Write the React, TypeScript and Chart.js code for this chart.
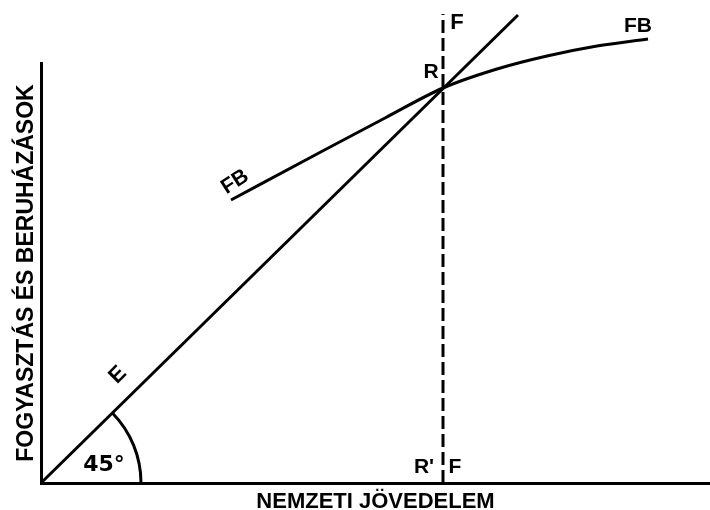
import React, { useEffect, useRef } from "react";
import { Chart, registerables } from "chart.js";

Chart.register(...registerables);

// 45° line (E)
const ePointsX = [0, 477];
const ePointsY = [0, 468];
// FB curve
const fbX = [190, 276, 344, 402, 456, 506, 556, 607];
const fbY = [283, 329, 365, 395, 414, 427, 437, 444];
// vertical dashed F line
const fLineX = [402, 402];
const fLineY = [0, 469];
// angle arc radius (x units)
const angleRadius = 100;
// annotation labels
const labelTexts = ["F", "FB", "R", "FB", "E", "45°", "R'", "F"];
const labelX = [416, 597, 390, 194, 77, 63, 383, 414];
const labelY = [460, 457, 411, 301, 108, 18, 16, 16];
const labelRot = [0, 0, 0, -33, -45, 0, 0, 0];
const labelSize = [22, 21, 21, 21, 22, 22, 21, 21];
// axis titles
const xTitle = "NEMZETI JÖVEDELEM";
const yTitle = "FOGYASZTÁS ÉS BERUHÁZÁSOK";
const xMax = 669;
const yMax = 420;

const FONT = "'Liberation Sans', Arial, sans-serif";
const WIDE_FONT = "'DejaVu Sans', sans-serif";
const labelFont = [FONT, FONT, FONT, FONT, FONT, WIDE_FONT, FONT, FONT];

const toPts = (xs: number[], ys: number[]) => xs.map((x, i) => ({ x, y: ys[i] }));

const overlayPlugin = {
  id: "overlay",
  afterDatasetsDraw(chart: any) {
    const { ctx, scales } = chart;
    const x = scales.x;
    const y = scales.y;
    ctx.save();
    // 45° arc
    const cx = x.getPixelForValue(0);
    const cy = y.getPixelForValue(0);
    const r = x.getPixelForValue(angleRadius) - cx;
    const ex = x.getPixelForValue(ePointsX[1]);
    const ey = y.getPixelForValue(ePointsY[1]);
    const theta = Math.atan2(cy - ey, ex - cx);
    ctx.beginPath();
    ctx.arc(cx, cy, r, -theta, 0);
    ctx.lineWidth = 3;
    ctx.strokeStyle = "#000";
    ctx.stroke();
    // labels
    ctx.fillStyle = "#000";
    ctx.textAlign = "center";
    ctx.textBaseline = "middle";
    labelTexts.forEach((t, i) => {
      const px = x.getPixelForValue(labelX[i]);
      const py = y.getPixelForValue(labelY[i]);
      ctx.save();
      ctx.translate(px, py);
      ctx.rotate((labelRot[i] * Math.PI) / 180);
      ctx.font = `bold ${labelSize[i]}px ${labelFont[i]}`;
      ctx.fillText(t, 0, 0);
      ctx.restore();
    });
    ctx.restore();
  },
};

export default function App() {
  const ref = useRef<HTMLCanvasElement>(null);
  useEffect(() => {
    const line = {
      borderColor: "#000",
      borderWidth: 3,
      pointRadius: 0,
      showLine: true,
      clip: false as any,
    };
    const chart = new Chart(ref.current!, {
      type: "scatter",
      data: {
        datasets: [
          { ...line, label: "E", data: toPts(ePointsX, ePointsY), tension: 0 },
          {
            ...line,
            label: "FB",
            data: toPts(fbX, fbY),
            cubicInterpolationMode: "monotone",
          },
          {
            ...line,
            label: "F",
            data: toPts(fLineX, fLineY),
            borderDash: [13, 5],
          },
        ],
      },
      options: {
        animation: false,
        responsive: false,
        layout: { padding: { top: 63, left: 0, right: 0, bottom: 0 } },
        plugins: { legend: { display: false }, tooltip: { enabled: false } },
        scales: {
          x: {
            type: "linear",
            min: 0,
            max: xMax,
            ticks: { display: false },
            grid: { display: false, drawTicks: false },
            border: { display: true, color: "#000", width: 3 },
            title: {
              display: true,
              text: xTitle,
              color: "#000",
              font: { family: FONT, size: 22, weight: "bold", lineHeight: 0.6 },
              padding: { top: 0, bottom: 1 },
            },
            afterFit: (s: any) => {
              s.height = 27;
            },
          },
          y: {
            type: "linear",
            min: 0,
            max: yMax,
            ticks: { display: false },
            grid: { display: false, drawTicks: false },
            border: { display: true, color: "#000", width: 3 },
            title: {
              display: true,
              text: yTitle,
              color: "#000",
              font: { family: FONT, size: 23, weight: "bold", lineHeight: 1 },
              padding: { top: 15, bottom: 0 },
            },
            afterFit: (s: any) => {
              s.width = 41;
            },
          },
        },
      },
      plugins: [overlayPlugin],
    });
    return () => chart.destroy();
  }, []);
  return (
    <div
      style={{
        position: "fixed",
        left: 0,
        top: 0,
        width: 710,
        height: 510,
        background: "#fff",
      }}
    >
      <canvas
        ref={ref}
        width={710}
        height={510}
        style={{ display: "block", width: 710, height: 510 }}
      />
    </div>
  );
}
